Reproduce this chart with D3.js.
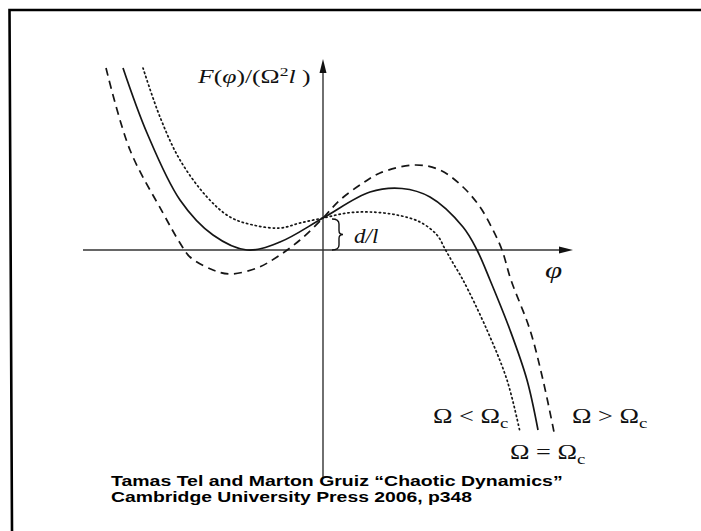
<!DOCTYPE html>
<html>
<head>
<meta charset="utf-8">
<script src="https://cdn.jsdelivr.net/npm/d3@7/dist/d3.min.js"></script>
<style>
  html, body { margin: 0; padding: 0; background: #fff; }
  svg { display: block; }
  .serif { font-family: "Liberation Serif", "Times New Roman", serif; fill: #111; }
  .cite { font-family: "Liberation Sans", Arial, sans-serif; font-weight: bold; fill: #000; }
</style>
</head>
<body>
<svg id="chart" width="701" height="531"></svg>
<script>
// Force curves F(φ)/(Ω²l) sampled along φ, one list per rotation rate.
const phiEqual   = [-2.00, -1.76, -1.43, -1.10, -0.76, -0.43, 0.00, 0.47, 0.79, 1.07, 1.40, 1.54, 1.67, 1.87, 2.04, 2.15];
const forceEqual = [ 1.82,  1.17,  0.50,  0.15,  0.00,  0.08, 0.32, 0.58, 0.615, 0.53, 0.23, 0.00, -0.30, -0.80, -1.30, -1.80];

const phiAbove   = [-2.17, -1.93, -1.60, -1.43, -1.33, -1.10, -0.93, -0.66, -0.46, -0.23, 0.00, 0.17, 0.40, 0.57, 0.92, 1.17, 1.40, 1.57, 1.70, 1.79, 1.88, 2.07, 2.20, 2.31];
const forceAbove = [ 1.82,  1.00,  0.37,  0.07, -0.07, -0.20, -0.24, -0.18, -0.07,  0.10, 0.32, 0.50, 0.67, 0.77, 0.85, 0.80, 0.63, 0.43, 0.20, 0.00, -0.30, -0.80, -1.30, -1.82];

const phiBelow   = [-1.80, -1.63, -1.43, -1.16, -0.93, -0.70, -0.43, -0.23, 0.00, 0.24, 0.47, 0.74, 0.97, 1.14, 1.22, 1.30, 1.40, 1.64, 1.84, 1.97];
const forceBelow = [ 1.82,  1.33,  0.90,  0.53,  0.33,  0.25,  0.22,  0.27, 0.32, 0.37, 0.38, 0.35, 0.28, 0.15, 0.01, -0.13, -0.30, -0.80, -1.30, -1.82];

// Offset d/l where every curve meets the vertical axis.
const offsetDL = 0.32;

const curveNames = ["Ω < Ωc", "Ω = Ωc", "Ω > Ωc"];

const svg = d3.select("#chart");

const x = d3.scaleLinear().domain([-2.4, 2.5]).range([83, 573]);
const y = d3.scaleLinear().domain([-2.28, 1.91]).range([478, 59]);

// Lettering in this figure is set slightly wide
const stretch = 1.3;
function label(px, py, cls, size, sx) {
  return svg.append("text").attr("class", cls)
    .attr("transform", `translate(${px},${py}) scale(${sx || stretch},1)`)
    .attr("font-size", size);
}

// Page frame (top and left rules)
svg.append("path")
  .attr("d", "M701,10 H9.5 L12,531")
  .attr("fill", "none")
  .attr("stroke", "#000")
  .attr("stroke-width", 2.6);

// Axes with arrowheads
const axisColor = "#333";
const x0 = x(0), y0 = y(0);
svg.append("line")
  .attr("x1", x(-2.4)).attr("x2", x(2.5) - 8)
  .attr("y1", y0).attr("y2", y0)
  .attr("stroke", axisColor).attr("stroke-width", 1.4);
svg.append("path")
  .attr("d", `M${x(2.5)},${y0} L${x(2.5) - 14},${y0 - 3.5} L${x(2.5) - 14},${y0 + 3.5} Z`)
  .attr("fill", "#111");
svg.append("line")
  .attr("x1", x0).attr("x2", x0)
  .attr("y1", y(-2.28)).attr("y2", y(1.91) + 8)
  .attr("stroke", axisColor).attr("stroke-width", 1.4);
svg.append("path")
  .attr("d", `M${x0},${y(1.91)} L${x0 - 3.5},${y(1.91) + 14} L${x0 + 3.5},${y(1.91) + 14} Z`)
  .attr("fill", "#111");

// Curves
const line = d3.line()
  .x(d => x(d[0]))
  .y(d => y(d[1]))
  .curve(d3.curveCatmullRom.alpha(0.5));

const series = [
  { name: curveNames[0], pts: d3.zip(phiBelow, forceBelow), dash: "1.3,3.2", cap: "round" },
  { name: curveNames[1], pts: d3.zip(phiEqual, forceEqual), dash: null, cap: "butt" },
  { name: curveNames[2], pts: d3.zip(phiAbove, forceAbove), dash: "8,5.5", cap: "butt" }
];

svg.selectAll("path.curve")
  .data(series)
  .enter().append("path")
  .attr("class", "curve")
  .attr("d", d => line(d.pts))
  .attr("fill", "none")
  .attr("stroke", "#151515")
  .attr("stroke-width", 1.7)
  .attr("stroke-linecap", d => d.cap)
  .attr("stroke-dasharray", d => d.dash);

// Brace marking the offset d/l
const bTop = y(offsetDL) + 1, bBot = y0, bMid = (bTop + bBot) / 2;
const bx0 = x0 + 9, bx1 = x0 + 16, bTip = x0 + 20;
svg.append("path")
  .attr("d", `M${bx0},${bTop} Q${bx1},${bTop} ${bx1},${bTop + 5} L${bx1},${bMid - 4} Q${bx1},${bMid} ${bTip},${bMid}` +
             ` Q${bx1},${bMid} ${bx1},${bMid + 4} L${bx1},${bBot - 5} Q${bx1},${bBot} ${bx0},${bBot}`)
  .attr("fill", "none")
  .attr("stroke", "#111")
  .attr("stroke-width", 1.4);

// Axis labels
const yLabel = label(198, 83, "serif", 19, 1.35);
yLabel.append("tspan").attr("font-style", "italic").text("F");
yLabel.append("tspan").text("(");
yLabel.append("tspan").attr("font-style", "italic").text("φ");
yLabel.append("tspan").text(")/(Ω");
yLabel.append("tspan").attr("font-size", 13).attr("dy", -7).text("2");
yLabel.append("tspan").attr("font-style", "italic").attr("dy", 7).text("l");
yLabel.append("tspan").text(" )");

label(545, 278, "serif", 23, 1.35).attr("font-style", "italic").text("φ");

label(354, 243, "serif", 20, 1.15).attr("font-style", "italic").text("d/l");

// Curve labels
function omegaLabel(px, py, rel) {
  const t = label(px, py, "serif", 21, 1.25);
  t.append("tspan").text(`Ω ${rel} Ω`);
  t.append("tspan").attr("font-size", 15).attr("dy", 5).text("c");
}
omegaLabel(433, 423, "<");
omegaLabel(572, 423, ">");
omegaLabel(510, 459, "=");

// Citation
label(111, 486, "cite", 15, 1.3).text("Tamas Tel and Marton Gruiz “Chaotic Dynamics”");
label(111, 502, "cite", 15, 1.29).text("Cambridge University Press 2006, p348");
</script>
</body>
</html>
